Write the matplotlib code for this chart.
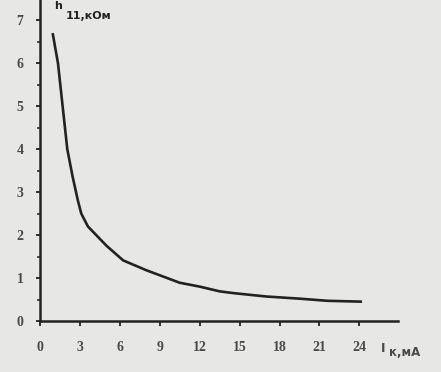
import matplotlib
matplotlib.use("Agg")
import matplotlib.pyplot as plt
from matplotlib.ticker import MultipleLocator

# h11 vs collector current
ik_ma = [0.95, 1.35, 1.7, 2.05, 2.45, 2.85, 3.1, 3.6, 5.0, 6.25, 8.0, 10.5, 12.0, 13.5, 14.5, 17.0, 19.5, 21.6, 24.2]
h11_kohm = [6.70, 6.0, 5.0, 4.0, 3.36, 2.8, 2.5, 2.2, 1.75, 1.41, 1.18, 0.89, 0.80, 0.69, 0.65, 0.57, 0.52, 0.47, 0.45]

x_ticks = [0, 3, 6, 9, 12, 15, 18, 21, 24]
y_ticks = [0, 1, 2, 3, 4, 5, 6, 7]

paper = '#e7e7e5'
ink = '#222222'
label_col = '#4a4a4a'

fig = plt.figure(figsize=(4.41, 3.72), dpi=100, facecolor=paper)
ax = fig.add_axes([40/441, 51/372, 358/441, 321/372], facecolor=paper)

ax.plot(ik_ma, h11_kohm, color=ink, lw=1.9, solid_capstyle='butt')

ax.set_xlim(0, 26.9)
ax.set_ylim(0, 7.47)

for s in ['top', 'right']:
    ax.spines[s].set_visible(False)
for s in ['left', 'bottom']:
    ax.spines[s].set_color(ink)
    ax.spines[s].set_linewidth(1.8)

ax.set_xticks(x_ticks)
ax.set_yticks(y_ticks)
ax.yaxis.set_minor_locator(MultipleLocator(0.5))
ax.tick_params(axis='x', direction='out', length=3.5, width=1.3, color=ink, pad=11,
               labelsize=10, labelcolor=label_col)
ax.tick_params(axis='y', direction='out', length=3, width=1.3, color=ink, pad=9,
               labelsize=10, labelcolor=label_col)
ax.tick_params(axis='y', which='minor', direction='out', length=2.5, width=1.1, color=ink)
for lab in ax.get_xticklabels() + ax.get_yticklabels():
    lab.set_family('Liberation Serif')
    lab.set_fontweight('bold')

# axis captions
fig.text(58/441, 1 - 6/372, 'h', fontsize=8, fontweight='bold', color=ink,
         ha='center', va='center', family='DejaVu Sans')
fig.text(66/441, 1 - 16/372, '11,кОм', fontsize=8, fontweight='bold', color=ink,
         ha='left', va='center', family='DejaVu Sans')
fig.text(383/441, 1 - 348/372, 'I', fontsize=9, fontweight='bold', color=label_col,
         ha='center', va='center', family='DejaVu Sans')
fig.text(389/441, 1 - 352/372, 'к,мА', fontsize=8.5, fontweight='bold', color=label_col,
         ha='left', va='center', family='DejaVu Sans')

fig.savefig('out.png', dpi=100, facecolor=paper)
